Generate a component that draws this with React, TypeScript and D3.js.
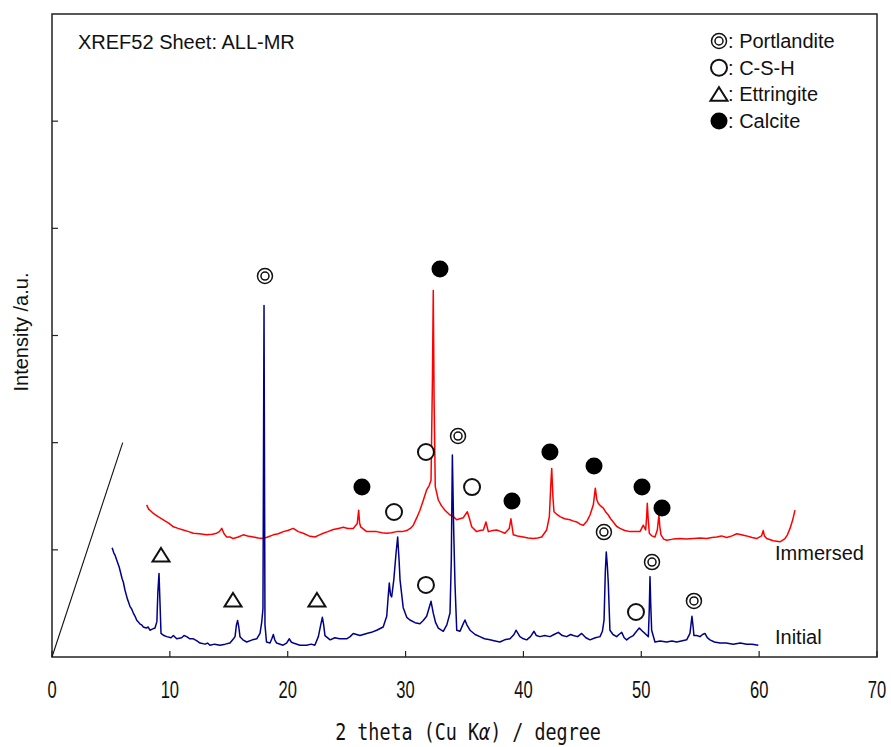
import React from "react";
import * as d3 from "d3";

// ---- data (2theta in degrees, intensity in arbitrary units) ----
const initialData: [number, number][] = [
  [5.1, 1.02], [5.25, 0.97], [5.35, 0.95], [5.49, 0.905], [5.6, 0.87], [5.7, 0.84], [5.77, 0.81], [5.95, 0.73], [6.05, 0.7], [6.19, 0.625], [6.4, 0.54],
  [6.5, 0.51], [6.62, 0.47], [6.75, 0.45], [6.9, 0.41], [7.05, 0.38], [7.18, 0.345], [7.3, 0.33], [7.45, 0.31], [7.6, 0.3], [7.75, 0.28], [8.0, 0.27], [8.15, 0.28], [8.31, 0.25], [8.5, 0.26],
  [8.74, 0.27], [8.9, 0.33], [8.98, 0.6], [9.08, 0.78], [9.15, 0.55], [9.25, 0.22], [9.5, 0.2], [9.73, 0.19],
  [10.1, 0.18], [10.3, 0.2], [10.58, 0.17], [11.0, 0.18], [11.2, 0.2], [11.43, 0.19], [11.7, 0.17], [12.0, 0.17], [12.3, 0.15], [12.56, 0.13],
  [13.0, 0.12], [13.2, 0.13], [13.4, 0.11], [13.8, 0.12], [14.25, 0.11], [14.7, 0.12], [15.1, 0.13], [15.4, 0.17], [15.53, 0.19],
  [15.65, 0.3], [15.75, 0.34], [15.85, 0.28], [15.95, 0.19], [16.2, 0.16], [16.52, 0.14], [17.0, 0.16], [17.37, 0.17],
  [17.65, 0.22], [17.79, 0.32], [17.9, 0.45], [17.99, 3.28], [18.07, 0.3], [18.2, 0.14], [18.5, 0.13], [18.65, 0.17],
  [18.78, 0.21], [18.9, 0.16], [19.06, 0.13], [19.6, 0.11], [19.9, 0.13], [20.14, 0.17], [20.3, 0.14], [20.47, 0.13],
  [21.04, 0.11], [21.6, 0.11], [22.0, 0.12], [22.3, 0.11], [22.6, 0.19], [22.8, 0.3], [22.94, 0.37], [23.05, 0.3],
  [23.16, 0.2], [23.6, 0.16], [24.0, 0.18], [24.4, 0.17], [25.0, 0.17], [25.3, 0.19], [25.56, 0.22], [26.13, 0.2],
  [26.7, 0.22], [27.1, 0.23], [27.55, 0.25], [28.1, 0.28], [28.4, 0.38], [28.55, 0.6], [28.62, 0.69], [28.72, 0.58],
  [28.82, 0.56], [29.0, 0.72], [29.2, 0.98], [29.33, 1.12], [29.45, 0.9], [29.53, 0.72], [29.8, 0.46], [30.1, 0.37],
  [30.37, 0.345], [30.8, 0.32], [31.22, 0.31], [31.5, 0.34], [31.79, 0.38], [32.0, 0.46], [32.16, 0.52], [32.35, 0.41],
  [32.55, 0.32], [32.78, 0.27], [33.2, 0.24], [33.5, 0.3], [33.77, 0.41], [33.88, 0.9], [33.97, 1.885], [34.08, 1.2],
  [34.19, 0.69], [34.34, 0.25], [34.62, 0.24], [34.85, 0.3], [35.04, 0.345], [35.2, 0.3], [35.47, 0.25], [35.9, 0.21],
  [36.3, 0.19], [36.7, 0.17], [37.16, 0.16], [37.6, 0.15], [38.0, 0.14], [38.4, 0.16], [38.86, 0.17], [39.2, 0.21],
  [39.37, 0.25], [39.7, 0.19], [40.0, 0.17], [40.28, 0.16], [40.6, 0.19], [40.9, 0.24], [41.1, 0.2], [41.4, 0.19],
  [41.8, 0.2], [42.25, 0.19], [42.6, 0.21], [42.96, 0.23], [43.3, 0.2], [43.67, 0.19], [44.0, 0.21], [44.23, 0.2],
  [44.6, 0.19], [44.94, 0.22], [45.3, 0.18], [45.65, 0.16], [46.1, 0.18], [46.5, 0.19], [46.7, 0.24], [46.84, 0.345],
  [46.95, 0.8], [47.03, 0.98], [47.12, 0.85], [47.2, 0.69], [47.34, 0.25], [47.6, 0.21], [47.91, 0.19], [48.1, 0.21],
  [48.34, 0.23], [48.55, 0.18], [48.76, 0.16], [49.0, 0.18], [49.32, 0.2], [49.6, 0.24], [49.83, 0.27], [50.1, 0.24],
  [50.31, 0.22], [50.6, 0.19], [50.68, 0.45], [50.74, 0.75], [50.8, 0.5], [50.88, 0.25], [51.16, 0.14], [51.6, 0.15],
  [52.15, 0.14], [52.6, 0.15], [53.0, 0.14], [53.4, 0.15], [53.85, 0.16], [54.13, 0.22], [54.3, 0.38], [54.4, 0.28],
  [54.47, 0.2], [54.7, 0.2], [54.98, 0.19], [55.2, 0.21], [55.4, 0.22], [55.6, 0.18], [55.83, 0.16], [56.2, 0.14],
  [56.68, 0.13], [57.2, 0.13], [57.8, 0.12], [58.4, 0.13], [58.94, 0.12], [59.4, 0.12], [59.93, 0.11],
];

const immersedData: [number, number][] = [
  [8.03, 1.42], [8.2, 1.38], [8.4, 1.36], [8.6, 1.34], [9.0, 1.31], [9.45, 1.28], [9.9, 1.25], [10.3, 1.215],
  [10.7, 1.2], [11.14, 1.185], [11.6, 1.17], [11.99, 1.155], [12.5, 1.15], [13.12, 1.14], [13.6, 1.145], [13.97, 1.155],
  [14.2, 1.17], [14.4, 1.2], [14.6, 1.15], [14.82, 1.12], [15.1, 1.12], [15.38, 1.105], [15.8, 1.12], [16.23, 1.14],
  [16.6, 1.13], [17.08, 1.12], [17.5, 1.11], [17.93, 1.105], [18.3, 1.12], [18.78, 1.14], [19.2, 1.15], [19.63, 1.17],
  [20.0, 1.18], [20.47, 1.2], [20.9, 1.17], [21.32, 1.155], [21.8, 1.13], [22.31, 1.12], [22.7, 1.14], [23.02, 1.155],
  [23.4, 1.17], [23.87, 1.19], [24.3, 1.2], [24.72, 1.21], [25.1, 1.2], [25.56, 1.2], [25.9, 1.245], [26.02, 1.37],
  [26.1, 1.25], [26.19, 1.215], [26.7, 1.17], [27.1, 1.17], [27.55, 1.17], [28.0, 1.16], [28.4, 1.155], [28.8, 1.16],
  [29.25, 1.17], [29.7, 1.17], [30.1, 1.18], [30.4, 1.2], [30.66, 1.23], [30.95, 1.3], [31.22, 1.37], [31.5, 1.46],
  [31.79, 1.56], [32.0, 1.6], [32.16, 1.65], [32.28, 2.6], [32.35, 3.42], [32.42, 2.4], [32.52, 1.59], [32.78, 1.465],
  [33.05, 1.41], [33.34, 1.37], [33.77, 1.325], [34.05, 1.31], [34.34, 1.28], [34.6, 1.29], [34.9, 1.3], [35.24, 1.355],
  [35.45, 1.28], [35.61, 1.215], [36.03, 1.17], [36.3, 1.18], [36.6, 1.185], [36.82, 1.26], [37.02, 1.17], [37.4, 1.18],
  [37.73, 1.185], [38.1, 1.17], [38.43, 1.155], [38.8, 1.2], [38.94, 1.29], [39.14, 1.14], [39.5, 1.13], [39.99, 1.12],
  [40.4, 1.11], [40.84, 1.105], [41.2, 1.11], [41.55, 1.12], [41.97, 1.185], [42.2, 1.31], [42.32, 1.6], [42.4, 1.76],
  [42.5, 1.5], [42.59, 1.355], [42.85, 1.33], [43.1, 1.31], [43.5, 1.29], [43.95, 1.28], [44.2, 1.27], [44.52, 1.26],
  [44.8, 1.24], [45.08, 1.23], [45.4, 1.27], [45.65, 1.325], [45.93, 1.42], [46.1, 1.575], [46.22, 1.47], [46.35, 1.435],
  [46.55, 1.41], [46.78, 1.39], [47.0, 1.35], [47.2, 1.325], [47.4, 1.29], [47.62, 1.26], [47.9, 1.22], [48.19, 1.2],
  [48.6, 1.18], [49.04, 1.17], [49.45, 1.17], [49.89, 1.17], [50.17, 1.23], [50.37, 1.185], [50.45, 1.3], [50.51, 1.435],
  [50.58, 1.3], [50.68, 1.155], [50.9, 1.13], [51.16, 1.12], [51.36, 1.185], [51.45, 1.28], [51.5, 1.325], [51.57, 1.22],
  [51.67, 1.14], [51.9, 1.1], [52.15, 1.09], [52.7, 1.1], [53.28, 1.105], [53.8, 1.1], [54.41, 1.105], [55.0, 1.11],
  [55.55, 1.105], [56.0, 1.115], [56.4, 1.12], [56.8, 1.13], [57.25, 1.115], [57.7, 1.13], [58.1, 1.15], [58.5, 1.14],
  [58.94, 1.13], [59.4, 1.115], [59.79, 1.105], [60.2, 1.13], [60.35, 1.18], [60.45, 1.13], [60.64, 1.105], [61.2, 1.085],
  [61.77, 1.075], [62.0, 1.09], [62.19, 1.105], [62.4, 1.14], [62.62, 1.2], [62.85, 1.28], [63.04, 1.37],
];

// phase markers [2theta, intensity]
const portlanditeMarks: [number, number][] = [[18.07, 3.555], [34.45, 2.062], [46.83, 1.166], [50.91, 0.886], [54.47, 0.523]];
const cshMarks: [number, number][] = [[29.02, 1.353], [31.73, 1.913], [35.64, 1.586], [31.73, 0.672], [49.55, 0.42]];
const ettringiteMarks: [number, number][] = [[9.25, 0.95], [15.36, 0.53], [22.48, 0.53]];
const calciteMarks: [number, number][] = [[26.3, 1.586], [32.92, 3.62], [39.03, 1.456], [42.25, 1.913], [45.99, 1.782], [50.06, 1.586], [51.76, 1.39]];

const breakLine: [number, number][] = [[0, 0], [6, 2]];

const xTicks = [0, 10, 20, 30, 40, 50, 60, 70];
const yTicks = [1, 2, 3, 4, 5];

const legendItems = ["Portlandite", "C-S-H", "Ettringite", "Calcite"];

const W = 891;
const H = 747;
const M = { left: 52, right: 877, top: 14, bottom: 657 };

const mono = "'DejaVu Sans Mono', 'Liberation Mono', monospace";
const sans = "'Liberation Sans', Arial, sans-serif";

function Marker({ kind, cx, cy }: { kind: string; cx: number; cy: number }) {
  if (kind === "portlandite") {
    return (
      <g>
        <circle cx={cx} cy={cy} r={7.5} fill="white" stroke="#111" strokeWidth={1.5} />
        <circle cx={cx} cy={cy} r={4} fill="none" stroke="#111" strokeWidth={1.5} />
      </g>
    );
  }
  if (kind === "csh") {
    return <circle cx={cx} cy={cy} r={8} fill="white" stroke="#111" strokeWidth={2} />;
  }
  if (kind === "ettringite") {
    const s = 8.5;
    return (
      <path
        d={`M${cx},${cy - s * 0.85} L${cx + s},${cy + s * 0.75} L${cx - s},${cy + s * 0.75} Z`}
        fill="white"
        stroke="#111"
        strokeWidth={2}
      />
    );
  }
  return <circle cx={cx} cy={cy} r={8.5} fill="#000" />;
}

export default function App() {
  const x = d3.scaleLinear().domain([0, 70]).range([M.left, M.right]);
  const y = d3.scaleLinear().domain([0, 6]).range([M.bottom, M.top]);
  const line = d3
    .line<[number, number]>()
    .x((d) => x(d[0]))
    .y((d) => y(d[1]));

  const legendX = 719;
  const legendY0 = 41;
  const legendDy = 26.7;
  const legendKinds = ["portlandite", "csh", "ettringite", "calcite"];

  return (
    <svg width={W} height={H} style={{ display: "block", position: "absolute", left: 0, top: 0 }}>
      <rect x={0} y={0} width={W} height={H} fill="white" />
      {/* frame */}
      <rect x={M.left} y={M.top} width={M.right - M.left} height={M.bottom - M.top} fill="none" stroke="#222" strokeWidth={1.5} />

      {/* ticks */}
      {xTicks.map((t) => (
        <g key={"xt" + t}>
          <line x1={x(t)} x2={x(t)} y1={M.bottom} y2={M.bottom - 6} stroke="#222" strokeWidth={1.2} />
          <text
            transform={`translate(${x(t)},698) scale(0.72,1)`}
            textAnchor="middle"
            fontFamily={sans}
            fontSize={23}
            fill="#111"
          >
            {t}
          </text>
        </g>
      ))}
      {yTicks.map((t) => (
        <line key={"yt" + t} x1={M.left} x2={M.left + 6} y1={y(t)} y2={y(t)} stroke="#222" strokeWidth={1.2} />
      ))}

      {/* break line */}
      <path d={line(breakLine) || ""} fill="none" stroke="#111" strokeWidth={1.1} />

      {/* curves */}
      <path d={line(immersedData) || ""} fill="none" stroke="#ff0000" strokeWidth={1.5} strokeLinejoin="round" />
      <path d={line(initialData) || ""} fill="none" stroke="#000088" strokeWidth={1.5} strokeLinejoin="round" />

      {/* markers */}
      {portlanditeMarks.map((d, i) => (
        <Marker key={"p" + i} kind="portlandite" cx={x(d[0])} cy={y(d[1])} />
      ))}
      {cshMarks.map((d, i) => (
        <Marker key={"c" + i} kind="csh" cx={x(d[0])} cy={y(d[1])} />
      ))}
      {ettringiteMarks.map((d, i) => (
        <Marker key={"e" + i} kind="ettringite" cx={x(d[0])} cy={y(d[1])} />
      ))}
      {calciteMarks.map((d, i) => (
        <Marker key={"k" + i} kind="calcite" cx={x(d[0])} cy={y(d[1])} />
      ))}

      {/* series labels */}
      <text x={775} y={560} fontFamily={sans} fontSize={20} fill="#111">Immersed</text>
      <text x={775} y={644} fontFamily={sans} fontSize={20} fill="#111">Initial</text>

      {/* header text */}
      <text x={78} y={49} fontFamily={sans} fontSize={20} fill="#111">XREF52 Sheet: ALL-MR</text>

      {/* legend */}
      {legendItems.map((name, i) => {
        const cy = legendY0 + i * legendDy;
        return (
          <g key={name}>
            <Marker kind={legendKinds[i]} cx={legendX} cy={cy} />
            <text x={legendX + 9} y={cy + 7} fontFamily={sans} fontSize={20} fill="#111">
              : {name}
            </text>
          </g>
        );
      })}

      {/* axis titles */}
      <text
        transform="translate(468,740) scale(0.8,1)"
        textAnchor="middle"
        fontFamily={mono}
        fontSize={23}
        fill="#111"
      >
        2 theta (Cu K<tspan fontStyle="italic">α</tspan>) / degree
      </text>
      <text
        transform={`translate(28,${332}) rotate(-90)`}
        textAnchor="middle"
        fontFamily={sans}
        fontSize={20}
        fill="#111"
      >
        Intensity /a.u.
      </text>
    </svg>
  );
}
